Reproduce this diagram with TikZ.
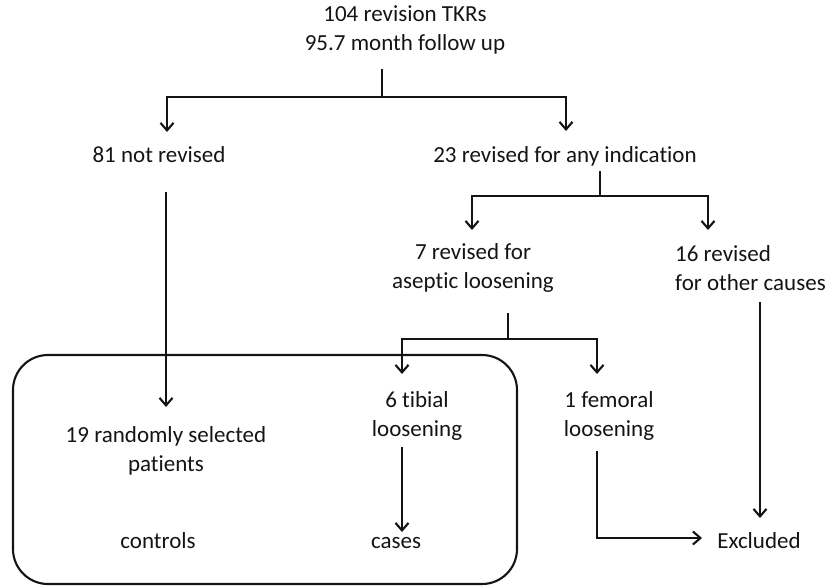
\documentclass[tikz,border=0pt]{standalone}
\usepackage{fontspec}
\setmainfont[Ligatures={NoCommon}]{Carlito}
\usetikzlibrary{arrows.meta}
\begin{document}
\begin{tikzpicture}[x=1pt,y=-1pt,
  txt/.style={inner sep=0pt,font=\fontsize{23}{29}\selectfont,align=center,text=black!92},
  ln/.style={line width=2.1pt,black!92},
  arr/.style={ln,-{Straight Barb[length=7.5pt,width=13pt,line width=2.1pt]}},
  grp/.style={line width=2.1pt,black!92,rounded corners=35pt}]
\useasboundingbox (0,0) rectangle (834,586);
% text nodes
\node[txt] (top) at (405,30) {104 revision TKRs\\95.7 month follow up};
\node[txt,anchor=base] (n81) at (159,162) {81 not revised};
\node[txt,anchor=base] (n23) at (565,162) {23 revised for any indication};
\node[txt] (n7) at (473,268) {7 revised for\\aseptic loosening};
\node[txt,align=left,anchor=west] (n16) at (675,268) {16 revised\\for other causes};
\node[txt] (n19) at (166,451) {19 randomly selected\\patients};
\node[txt] (n6) at (417,416) {6 tibial\\loosening};
\node[txt] (n1) at (609,416) {1 femoral\\loosening};
\node[txt,anchor=base] (ctrl) at (158,548) {controls};
\node[txt,anchor=base] (cases) at (396,548) {cases};
\node[txt,anchor=base] (excl) at (759,548) {Excluded};
% group box
\draw[grp] (13,355) rectangle (517,584);
% junction coordinates
\coordinate (s1) at (382,69);  \coordinate (j1) at (382,97);
\coordinate (t81) at (167,132); \coordinate (t23) at (566,131);
\coordinate (s2) at (600,171); \coordinate (j2) at (600,196);
\coordinate (t7) at (472,230); \coordinate (t16) at (708,230);
\coordinate (s3) at (508,313); \coordinate (j3) at (508,339);
\coordinate (t6) at (402,374); \coordinate (t1) at (597,374);
\coordinate (f81) at (166,192); \coordinate (e19) at (166,407);
\coordinate (f6) at (402,447); \coordinate (ecases) at (402,532);
\coordinate (f1) at (597,451); \coordinate (eexcl) at (702,538);
\coordinate (f16) at (760,302); \coordinate (eexcl2) at (760,518);
% connectors
\draw[ln] (s1) -- (j1);
\draw[arr] (j1) -| (t81);
\draw[arr] (j1) -| (t23);
\draw[ln] (s2) -- (j2);
\draw[arr] (j2) -| (t7);
\draw[arr] (j2) -| (t16);
\draw[ln] (s3) -- (j3);
\draw[arr] (j3) -| (t6);
\draw[arr] (j3) -| (t1);
\draw[arr] (f81) -- (e19);
\draw[arr] (f6) -- (ecases);
\draw[arr] (f1) |- (eexcl);
\draw[arr] (f16) -- (eexcl2);
\end{tikzpicture}
\end{document}
